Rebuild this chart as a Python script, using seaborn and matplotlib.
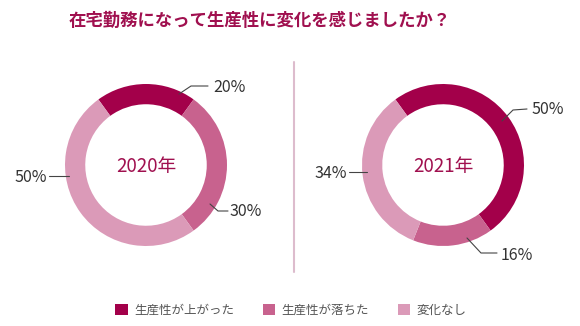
import matplotlib
matplotlib.use("Agg")
import matplotlib.pyplot as plt
import seaborn as sns
from matplotlib.patches import Patch

sns.set_theme(style="white")
plt.rcParams['font.family'] = ['Noto Sans CJK JP', 'DejaVu Sans']

title = "在宅勤務になって生産性に変化を感じましたか？"
categories = ["生産性が上がった", "生産性が落ちた", "変化なし"]
years = ["2020年", "2021年"]
values_2020 = [20, 30, 50]
values_2021 = [50, 16, 34]
colors = ["#A3004A", "#C8628E", "#DB9AB8"]

W, H = 580, 326
fig = plt.figure(figsize=(W / 100, H / 100), dpi=100)
fig.patch.set_facecolor("white")

R = 81  # px radius
SIDE = 3 * R

def make_ax(cx, cy):
    left = (cx - SIDE / 2) / W
    bottom = (H - cy - SIDE / 2) / H
    ax = fig.add_axes([left, bottom, SIDE / W, SIDE / H])
    ax.set_xlim(-1.5, 1.5)
    ax.set_ylim(-1.5, 1.5)
    ax.set_axis_off()
    return ax

def p2d(px, py, cx, cy):
    return (px - cx) / R, (cy - py) / R

label_color = "#333333"
center_color = "#A0104F"

layout = {
    0: dict(cx=146, cy=165, labels=[
        ((213, 88), "left", [(179, 94), (191, 86), (208, 86)]),
        ((230, 212), "left", [(210, 204), (218, 211), (228, 211)]),
        ((47, 177), "right", [(49, 176), (69, 176)]),
    ]),
    1: dict(cx=443, cy=165, labels=[
        ((531, 110), "left", [(502, 121), (513, 110), (527, 109)]),
        ((501, 255), "left", [(467, 238), (481, 253), (497, 253)]),
        ((347, 173), "right", [(349, 172), (367, 172)]),
    ]),
}

for i, (yr, vals) in enumerate(zip(years, [values_2020, values_2021])):
    L = layout[i]
    cx, cy = L["cx"], L["cy"]
    ax = make_ax(cx, cy)
    ax.pie(vals, colors=colors, startangle=126, counterclock=False,
           radius=1.0, wedgeprops=dict(width=0.25, edgecolor="none"))
    ax.set_xlim(-1.5, 1.5)
    ax.set_ylim(-1.5, 1.5)
    ax.text(0, -0.02, yr, ha="center", va="center", fontsize=13.5, color=center_color)
    for v, (pos, ha, pts) in zip(vals, L["labels"]):
        tx, ty = p2d(pos[0], pos[1], cx, cy)
        ax.text(tx, ty, f"{v}%", ha=ha, va="center", fontsize=11.5, color=label_color)
        xs, ys = zip(*[p2d(px, py, cx, cy) for px, py in pts])
        ax.plot(xs, ys, color="#444444", lw=0.8, clip_on=False)

# divider
fig.add_artist(plt.Line2D([294 / W, 294 / W], [1 - 62 / H, 1 - 272 / H],
                          color="#DDBCCD", lw=1.5))

fig.text(260 / W, 1 - 21 / H, title, ha="center", va="center",
         fontsize=12.5, color=center_color, fontweight="bold")

handles = [Patch(facecolor=c, edgecolor="none", label=l) for c, l in zip(colors, categories)]
leg = fig.legend(handles=handles, loc="center", ncol=3,
                 bbox_to_anchor=(291 / W, 1 - 310 / H), frameon=False,
                 fontsize=9, handlelength=1.0, handleheight=1.0,
                 handletextpad=0.5, columnspacing=2.3)
for t in leg.get_texts():
    t.set_color("#555555")

fig.savefig("out.png", dpi=100, facecolor="white")
